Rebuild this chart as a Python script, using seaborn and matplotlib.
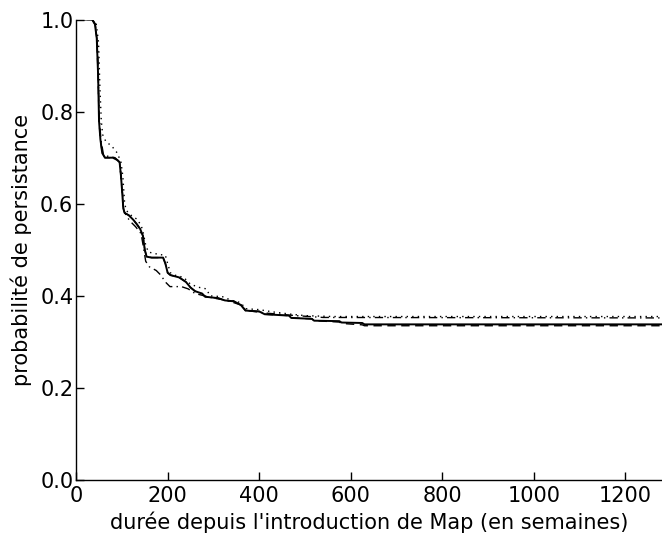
import matplotlib
matplotlib.use("Agg")
import matplotlib.pyplot as plt
import seaborn as sns
import numpy as np

# ---- data ----
solid_x = [0, 35, 41, 45, 48, 50, 53, 57, 63, 80, 90, 95, 98, 101, 103, 106, 115, 125, 133, 140, 146, 150, 154,
           165, 190, 195, 200, 206, 225, 240, 250, 260, 275, 282, 310, 325, 345, 360, 370, 400, 412, 465, 470,
           515, 520, 575, 580, 625, 630, 1280]
solid_y = [1.0, 1.0, 0.99, 0.96, 0.88, 0.78, 0.74, 0.71, 0.70, 0.70, 0.695, 0.69, 0.66, 0.62, 0.59, 0.58, 0.575,
           0.565, 0.555, 0.545, 0.53, 0.50, 0.485, 0.483, 0.483, 0.47, 0.45, 0.445, 0.44, 0.43, 0.418, 0.41,
           0.405, 0.398, 0.395, 0.39, 0.388, 0.38, 0.368, 0.366, 0.36, 0.357, 0.352, 0.35, 0.346, 0.345, 0.342,
           0.341, 0.338, 0.338]

dashed_x = [0, 35, 41, 45, 48, 50, 53, 57, 63, 80, 90, 95, 98, 101, 103, 106, 115, 125, 133, 140, 146, 150, 154,
            165, 190, 195, 200, 206, 225, 240, 250, 260, 275, 282, 310, 325, 345, 360, 370, 400, 412, 465, 470,
            515, 520, 575, 580, 625, 630, 1280]
dashed_y = [1.0, 1.0, 0.99, 0.96, 0.88, 0.78, 0.74, 0.71, 0.70, 0.70, 0.695, 0.69, 0.66, 0.62, 0.59, 0.58, 0.575,
            0.565, 0.555, 0.545, 0.53, 0.50, 0.485, 0.483, 0.483, 0.47, 0.45, 0.445, 0.44, 0.43, 0.418, 0.41,
            0.405, 0.398, 0.395, 0.39, 0.388, 0.38, 0.368, 0.366, 0.36, 0.357, 0.352, 0.35, 0.346, 0.343, 0.340,
            0.337, 0.335, 0.335]

dotted_x = [0, 38, 44, 49, 52, 55, 58, 65, 78, 90, 98, 102, 106, 110, 120, 135, 145, 152, 158, 180, 195, 200,
            206, 215, 235, 250, 270, 285, 292, 320, 340, 360, 370, 400, 430, 470, 500, 560, 1280]
dotted_y = [1.0, 1.0, 0.99, 0.95, 0.85, 0.78, 0.75, 0.735, 0.725, 0.71, 0.69, 0.66, 0.60, 0.585, 0.575, 0.565,
            0.545, 0.51, 0.495, 0.49, 0.488, 0.47, 0.45, 0.445, 0.44, 0.425, 0.418, 0.415, 0.40, 0.398, 0.39,
            0.385, 0.372, 0.37, 0.365, 0.36, 0.357, 0.355, 0.355]

dashdot_x = [0, 36, 42, 47, 50, 54, 60, 85, 95, 100, 104, 112, 120, 130, 142, 148, 152, 160, 175, 185, 195, 205,
             230, 245, 260, 280, 300, 330, 360, 372, 420, 480, 540, 1280]
dashdot_y = [1.0, 1.0, 0.99, 0.94, 0.80, 0.74, 0.705, 0.70, 0.69, 0.64, 0.585, 0.57, 0.56, 0.55, 0.535, 0.50,
             0.475, 0.463, 0.455, 0.445, 0.43, 0.42, 0.42, 0.415, 0.405, 0.40, 0.395, 0.39, 0.38, 0.368, 0.362,
             0.357, 0.353, 0.352]

x_ticks = [0, 200, 400, 600, 800, 1000, 1200]
y_ticks = [0.0, 0.2, 0.4, 0.6, 0.8, 1.0]

sns.set_style("ticks")
plt.rcParams['font.family'] = ['DejaVu Sans']
plt.rcParams['xtick.direction'] = 'in'
plt.rcParams['ytick.direction'] = 'in'
plt.rcParams['text.color'] = 'black'
plt.rcParams['axes.labelcolor'] = 'black'
plt.rcParams['xtick.color'] = 'black'
plt.rcParams['ytick.color'] = 'black'

fig = plt.figure(figsize=(6.62, 5.36), dpi=100)
ax = fig.add_axes([0.115, 0.1045, 0.885, 0.859])

series = [
    (dashed_x, dashed_y, (0, (6, 4)), 1.0),
    (dotted_x, dotted_y, (0, (1, 3)), 1.0),
    (dashdot_x, dashdot_y, (0, (6, 3, 1, 3)), 1.0),
    (solid_x, solid_y, '-', 1.4),
]
for xs, ys, ls, lw in series:
    sns.lineplot(x=xs, y=ys, ax=ax, color='black', linestyle=ls, linewidth=lw,
                 sort=False, estimator=None, errorbar=None)

ax.set_xlim(0, 1280)
ax.set_ylim(0, 1.0)
ax.set_xticks(x_ticks)
ax.set_yticks(y_ticks)
ax.set_xticklabels([str(v) for v in x_ticks])
ax.set_yticklabels([f"{v:.1f}" for v in y_ticks])
ax.tick_params(axis='both', direction='in', length=6, width=1, labelsize=15, colors='black',
               labelcolor='black', top=False, right=False)
ax.tick_params(axis='x', pad=4)
ax.tick_params(axis='y', pad=2)
for side in ['top', 'right']:
    ax.spines[side].set_visible(False)
for side in ['left', 'bottom']:
    ax.spines[side].set_color('black')
    ax.spines[side].set_linewidth(1.0)

ax.set_xlabel("durée depuis l'introduction de Map (en semaines)", fontsize=15, labelpad=4, color='black')
ax.set_ylabel("probabilité de persistance", fontsize=15, labelpad=6, color='black')

fig.savefig("out.png", dpi=100)
